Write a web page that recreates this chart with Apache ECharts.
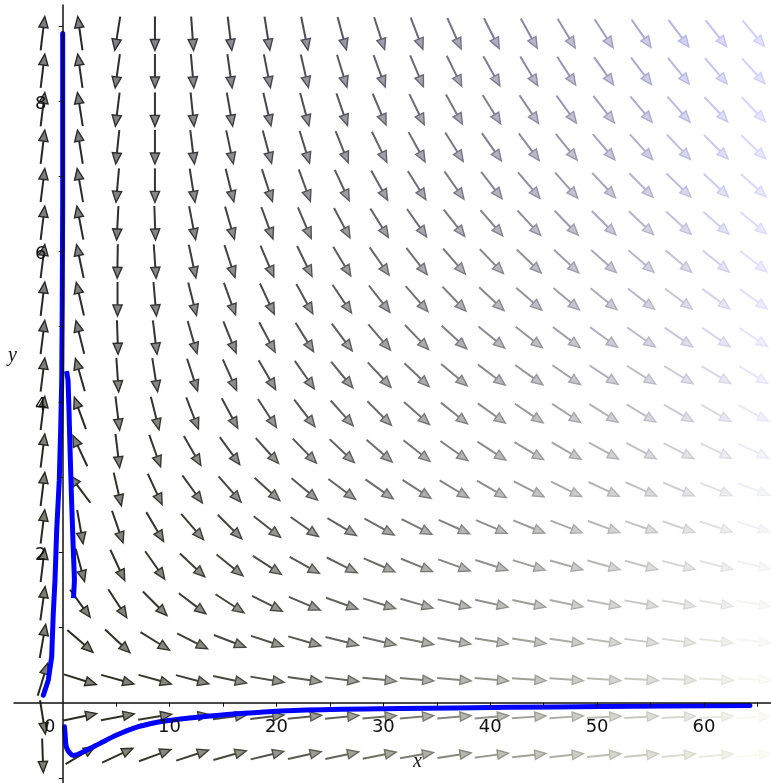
<!DOCTYPE html>
<html><head><meta charset="utf-8">
<script src="https://cdn.jsdelivr.net/npm/echarts@6/dist/echarts.min.js"></script>
<style>html,body{margin:0;padding:0;background:#fff}#c{width:771px;height:783px}</style>
</head><body><div id="c"></div>
<script>
// grid of direction-field arrows (data coordinates)
const fieldX = [-1.87, 1.63, 5.13, 8.63, 12.13, 15.63, 19.13, 22.63, 26.13, 29.63, 33.13, 36.63, 40.13, 43.63, 47.13, 50.63, 54.13, 57.63, 61.13, 64.63];
const fieldY = [8.90, 8.40, 7.89, 7.39, 6.88, 6.38, 5.87, 5.37, 4.86, 4.36, 3.85, 3.35, 2.84, 2.34, 1.83, 1.32, 0.82, 0.31, -0.19, -0.70];
// arrow direction on screen, degrees counter-clockwise from +x; one row per fieldY
const angleRows = [
  [83, 98, -99, -90, -86, -83, -81, -78.5, -75, -72, -69, -66, -63.5, -61, -59, -57, -55, -53, -51.5, -50],
  [83, 98, -98, -90, -85, -82, -79, -77, -73, -70, -67, -64, -61, -59, -57, -55, -53, -51, -49.5, -48],
  [83, 99, -97, -90, -84, -80, -77, -75, -71, -67, -64, -61, -58, -56, -54, -52, -50, -48.5, -47, -46],
  [83, 99, -96, -90, -83, -78, -75, -73, -68, -64, -61, -58, -55, -53, -51, -49.5, -48, -46.5, -45, -44],
  [83, 100, -95, -90, -81, -76, -72, -70, -65, -61, -58, -55, -52, -50, -48.5, -47, -45.5, -44, -43, -42],
  [83, 101, -93, -88, -79, -74, -70, -67, -62, -58, -55, -52, -49, -47, -46, -45, -43.5, -42, -41, -40],
  [83, 102, -91, -86, -78, -72, -67, -64, -59, -55, -52, -49, -46, -44, -43, -42, -41, -40, -39, -38],
  [83, 103, -90, -85, -76, -70, -65, -61, -56, -52, -49, -46, -43, -41, -40, -39, -38, -37, -36, -35.5],
  [83, 104, -88, -83, -74, -68, -62, -58, -53, -49.5, -46, -42.5, -39.5, -38, -37, -36, -35, -34.5, -34, -33],
  [83, 106, -86, -81, -72, -66, -60, -55, -50.5, -47, -43.5, -40, -37, -35.5, -34.5, -33.5, -32.5, -31.5, -31, -30.5],
  [83, 110, -83, -76, -69, -62, -57, -52.5, -48.5, -45, -41.5, -38.5, -35.5, -34, -33, -32, -31, -30, -29, -28],
  [83, 115, -83, -70.5, -60, -54, -48, -46, -43.5, -41, -38.5, -35.5, -33, -31, -30, -29, -28, -27, -26, -25],
  [83, 127, -77, -65, -54, -49, -42, -40, -37, -35, -33, -31, -30, -27, -26, -25, -24, -23, -22, -21],
  [83, -80, -71, -59.5, -49, -45, -38, -35, -31, -29, -26.6, -24, -23, -22, -21, -20, -19.5, -19, -18, -17.5],
  [83, -75, -65, -55, -43, -39, -33, -29, -26.6, -23.5, -22, -20, -17.5, -17, -16, -15.5, -15, -14.5, -14, -13.5],
  [82, -54, -57, -45, -37, -33, -27, -23, -19.5, -17.5, -16, -14, -12.5, -12, -11.5, -11, -10.5, -10, -10, -9.5],
  [80, -41, -43, -32, -26.6, -21, -18, -16, -14, -13, -11.5, -10.5, -9.5, -8.5, -8, -8, -7.5, -7.5, -7, -7],
  [73, -17.5, -15.5, -15.5, -14.7, -12, -9.5, -8, -7, -6, -5, -5, -4.5, -4, -4, -4, -3.5, -3.5, -3.5, -3],
  [-81, 12, 11, 9.5, 8.5, 7.5, 7, 6, 5.5, 5, 5, 4.5, 4.5, 4, 4, 3.5, 3.5, 3.5, 3, 3],
  [-88, 31, 25, 20, 18, 15.5, 13.5, 12.5, 12, 11, 10, 8.5, 7.5, 6.5, 6, 5.5, 5.5, 5, 5, 5]
];
// solution curves
const curve1 = [[-1.81, 0.10], [-1.35, 0.30], [-1.03, 0.61], [-0.88, 1.19], [-0.72, 1.63], [-0.56, 2.30], [-0.32, 2.96], [-0.19, 3.63], [-0.09, 4.29], [-0.04, 5.36], [0.0, 6.68], [0.0, 8.90]];
const curve2 = [[0.36, 4.41], [0.50, 4.29], [0.59, 3.89], [0.68, 3.40], [0.82, 2.74], [0.96, 2.16], [1.10, 1.63], [1.01, 1.39]];
const curve3 = [[0.17, -0.32], [0.22, -0.41], [0.37, -0.60], [0.99, -0.70], [2.25, -0.63], [3.49, -0.54], [5.05, -0.43], [6.60, -0.34], [8.17, -0.28], [9.73, -0.24], [12.84, -0.19], [15.96, -0.15], [22.2, -0.10], [31.55, -0.077], [41.8, -0.061], [50.3, -0.05], [64.3, -0.037]];
// ticks and labels
const xTicks = [5, 10, 15, 20, 25, 30, 35, 40, 45, 50, 55, 60, 65];
const xLabels = [0, 10, 20, 30, 40, 50, 60];
const yTicks = [-1, 1, 2, 3, 4, 5, 6, 7, 8, 9];
const yLabels = [2, 4, 6, 8];

const arrowData = [];
for (let r = 0; r < fieldY.length; r++)
  for (let c = 0; c < fieldX.length; c++)
    arrowData.push([fieldX[c], fieldY[r], angleRows[r][c], c, r]);

function clamp(v) { return Math.max(0, Math.min(255, Math.round(v))); }
function arrowColor(c, r, mix) {
  const t = c / (fieldX.length - 1), u = 1 - r / (fieldY.length - 1);
  let L = 40 + 185 * Math.pow(t, 1.5) + (1 - u) * 24 * t;
  const tint = (u * 1.2 - 0.3) * (5 + 36 * t * t) - (1 - u) * 14 * (1 - t);
  let R = L - Math.max(0, tint) * 0.5, G = R, B = L + tint;
  R = R + (255 - R) * mix; G = G + (255 - G) * mix; B = B + (255 - B) * mix;
  return 'rgb(' + clamp(R) + ',' + clamp(G) + ',' + clamp(B) + ')';
}

const labelData = xLabels.map(v => [v, 0, v, 0]).concat(yLabels.map(v => [0, v, v, 1]));

const chart = echarts.init(document.getElementById('c'), null, {renderer: 'canvas'});
const axisColor = '#111';
const labelFont = '18px "DejaVu Sans"';
chart.setOption({
  animation: false,
  backgroundColor: '#fff',
  grid: {left: 14, right: 0, top: 5, bottom: 0, containLabel: false, outerBoundsMode: 'none'},
  xAxis: {
    type: 'value', min: -4.556, max: 66.27, z: 10,
    axisLine: {onZero: true, lineStyle: {color: axisColor, width: 1.5}},
    axisTick: {show: true, customValues: xTicks, length: 4, lineStyle: {color: axisColor, width: 1}},
    axisLabel: {show: false},
    splitLine: {show: false}
  },
  yAxis: {
    type: 'value', min: -1.067, max: 9.278, z: 10,
    axisLine: {onZero: true, lineStyle: {color: axisColor, width: 1.5}},
    axisTick: {show: true, customValues: yTicks, length: 4, lineStyle: {color: axisColor, width: 1}},
    axisLabel: {show: false},
    splitLine: {show: false}
  },
  graphic: [
    {type: 'text', left: 413, top: 752, style: {text: 'x', font: 'italic 20px "Liberation Serif"', fill: '#111'}},
    {type: 'text', left: 8, top: 346, style: {text: 'y', font: 'italic 20px "Liberation Serif"', fill: '#111'}}
  ],
  series: [
    {
      type: 'custom', name: 'field', data: arrowData, encode: {x: 0, y: 1}, clip: false, z: 2,
      renderItem: function (params, api) {
        const p = api.coord([api.value(0), api.value(1)]);
        const a = api.value(2) * Math.PI / 180;
        const dx = Math.cos(a), dy = -Math.sin(a);
        const len = 34, hl = 11, hw = 4.6;
        const tail = [p[0] - dx * len / 2, p[1] - dy * len / 2];
        const tip = [p[0] + dx * len / 2, p[1] + dy * len / 2];
        const base = [tip[0] - dx * hl, tip[1] - dy * hl];
        const nx = -dy, ny = dx;
        const c = api.value(3), r = api.value(4);
        const stroke = arrowColor(c, r, 0), fill = arrowColor(c, r, 0.4);
        return {type: 'group', children: [
          {type: 'line', shape: {x1: tail[0], y1: tail[1], x2: base[0], y2: base[1]}, style: {stroke: stroke, lineWidth: 2}},
          {type: 'polygon', shape: {points: [tip, [base[0] + nx * hw, base[1] + ny * hw], [base[0] - nx * hw, base[1] - ny * hw]]},
            style: {fill: fill, stroke: stroke, lineWidth: 1.4, lineJoin: 'miter'}}
        ]};
      }
    },
    {type: 'line', data: curve1, showSymbol: false, z: 5, lineStyle: {color: '#0000ff', width: 5, cap: 'round'}},
    {type: 'line', data: curve2, showSymbol: false, z: 5, lineStyle: {color: '#0000ff', width: 5, cap: 'butt'}},
    {type: 'line', data: curve3, showSymbol: false, z: 5, smooth: 0.3, lineStyle: {color: '#0000ff', width: 5, cap: 'round'}},
    {
      type: 'custom', name: 'tickLabels', data: labelData, encode: {x: 0, y: 1}, clip: false, z: 12, silent: true,
      renderItem: function (params, api) {
        const p = api.coord([api.value(0), api.value(1)]);
        const isX = api.value(3) === 0;
        const v = api.value(2);
        let x = p[0], y = p[1];
        if (isX) { y += 25; if (v === 0) x -= 13; }
        else { x -= 22; y += 3; }
        return {type: 'text', x: x, y: y, style: {text: String(v), font: labelFont, fill: '#111', align: 'center', verticalAlign: 'middle'}};
      }
    }
  ]
});
</script></body></html>
